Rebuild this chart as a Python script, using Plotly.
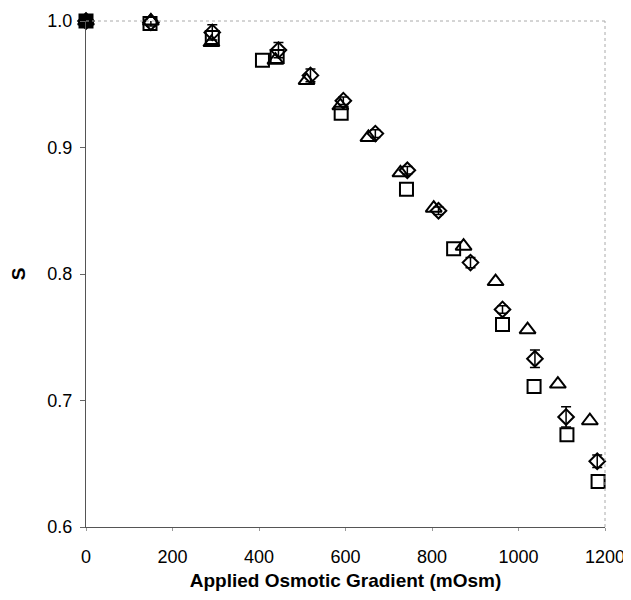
import plotly.graph_objects as go

# Series A (open squares)
sq_x = [0, 148, 292, 408, 442, 590, 741, 850, 963, 1036, 1112, 1184]
sq_y = [1.000, 0.998, 0.987, 0.969, 0.972, 0.927, 0.867, 0.820, 0.760, 0.711, 0.673, 0.636]

# Series B (open diamonds, with error bars)
di_x = [0, 150, 292, 445, 519, 595, 669, 743, 815, 889, 963, 1038, 1110, 1182]
di_y = [1.000, 0.999, 0.991, 0.977, 0.957, 0.937, 0.911, 0.882, 0.850, 0.809, 0.772, 0.733, 0.687, 0.652]
di_err = [0.0, 0.003, 0.006, 0.006, 0.005, 0.003, 0.003, 0.003, 0.003, 0.004, 0.003, 0.007, 0.008, 0.005]

# Series C (open triangles)
tr_x = [0, 150, 290, 438, 510, 588, 653, 727, 804, 873, 947, 1021, 1091, 1165]
tr_y = [1.000, 1.000, 0.983, 0.969, 0.953, 0.933, 0.908, 0.880, 0.852, 0.822, 0.794, 0.756, 0.713, 0.684]

x_ticks = [0, 200, 400, 600, 800, 1000, 1200]
y_ticks = [0.6, 0.7, 0.8, 0.9, 1.0]

fig = go.Figure()
fig.add_trace(go.Scatter(
    x=sq_x, y=sq_y, mode="markers", cliponaxis=False,
    marker=dict(symbol="square-open", size=13, color="black", line=dict(width=2, color="black")),
))
fig.add_trace(go.Scatter(
    x=di_x, y=di_y, mode="markers", cliponaxis=False,
    error_y=dict(type="data", array=di_err, visible=True, color="black", thickness=1.5, width=5),
    marker=dict(symbol="diamond-open", size=12, color="black", line=dict(width=2, color="black")),
))
fig.add_trace(go.Scatter(
    x=tr_x, y=tr_y, mode="markers", cliponaxis=False,
    marker=dict(symbol="triangle-up-open", size=14, color="black", line=dict(width=2, color="black")),
))
# filled square at origin point
fig.add_trace(go.Scatter(
    x=sq_x[:1], y=sq_y[:1], mode="markers", cliponaxis=False,
    marker=dict(symbol="square", size=13, color="black"),
))

fig.update_layout(
    width=623, height=584,
    margin=dict(l=78, r=26, t=13, b=65),
    paper_bgcolor="white", plot_bgcolor="white",
    showlegend=False,
    font=dict(family="Liberation Sans, Arial, sans-serif", size=18, color="black"),
    xaxis=dict(
        range=[0, 1200], tickvals=x_ticks, ticktext=[str(v) for v in x_ticks],
        automargin=False,
        showgrid=False, zeroline=False, showline=True, linecolor="#555555", linewidth=1,
        ticks="outside", ticklen=3, tickcolor="#999999", ticklabelstandoff=10,
        title=dict(text="<b>Applied Osmotic Gradient (mOsm)</b>", font=dict(size=19), standoff=8),
    ),
    yaxis=dict(
        range=[0.6, 1.0], tickvals=y_ticks, ticktext=[f"{v:.1f}" for v in y_ticks],
        automargin=False,
        showgrid=False, zeroline=False, showline=True, linecolor="#555555", linewidth=1,
        ticks="outside", ticklen=5, tickcolor="#666666", ticklabelstandoff=4,
        title=dict(text="<b>S</b>", font=dict(size=19), standoff=16),
    ),
    shapes=[
        dict(type="line", xref="paper", yref="paper", x0=0, x1=1, y0=1, y1=1,
             line=dict(color="#aaaaaa", width=1, dash="dot")),
        dict(type="line", xref="paper", yref="paper", x0=1, x1=1, y0=0, y1=1,
             line=dict(color="#aaaaaa", width=1, dash="dot")),
    ],
)

fig.write_html("out.html")
